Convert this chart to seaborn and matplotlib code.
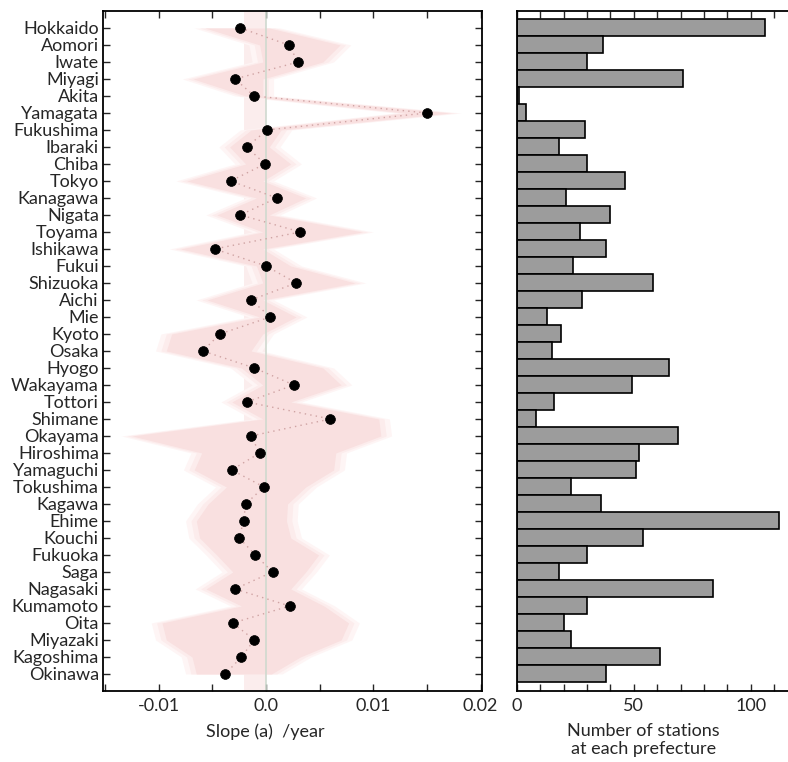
"""
Prefecture slope chart: slope (a) per prefecture with uncertainty band,
plus number of stations per prefecture as horizontal bars.
"""

import numpy as np
import pandas as pd
import matplotlib
matplotlib.use("Agg")
import matplotlib.pyplot as plt
from matplotlib.ticker import MultipleLocator, FuncFormatter
import seaborn as sns

# ── Data ──────────────────────────────────────────────────────────────────────
prefectures = [
    "Hokkaido", "Aomori", "Iwate", "Miyagi", "Akita", "Yamagata", "Fukushima",
    "Ibaraki", "Chiba", "Tokyo", "Kanagawa", "Nigata", "Toyama", "Ishikawa",
    "Fukui", "Shizuoka", "Aichi", "Mie", "Kyoto", "Osaka", "Hyogo", "Wakayama",
    "Tottori", "Shimane", "Okayama", "Hiroshima", "Yamaguchi", "Tokushima",
    "Kagawa", "Ehime", "Kouchi", "Fukuoka", "Saga", "Nagasaki", "Kumamoto",
    "Oita", "Miyazaki", "Kagoshima", "Okinawa",
]

slope = [
    -0.0024, 0.0021, 0.0030, -0.0029, -0.0011, 0.0150, 0.0001,
    -0.0018, -0.0001, -0.0033, 0.0010, -0.0024, 0.0032, -0.0048,
    0.0000, 0.0028, -0.0014, 0.0004, -0.0043, -0.0059, -0.0011, 0.0026,
    -0.0018, 0.0060, -0.0014, -0.0006, -0.0032, -0.0002,
    -0.0019, -0.0021, -0.0025, -0.0010, 0.0006, -0.0029, 0.0022,
    -0.0031, -0.0011, -0.0023, -0.0038,
]

slope_lo = [
    -0.0057, -0.0006, -0.0003, -0.0068, -0.0019, 0.0130, -0.0014,
    -0.0034, -0.0019, -0.0074, -0.0009, -0.0046, -0.0003, -0.0080,
    -0.0009, -0.0003, -0.0055, -0.0006, -0.0088, -0.0093, -0.0023, -0.0003,
    -0.0032, -0.0003, -0.0125, -0.0060, -0.0067, -0.0037,
    -0.0054, -0.0065, -0.0062, -0.0046, -0.0031, -0.0056, -0.0023,
    -0.0097, -0.0093, -0.0069, -0.0065,
]

slope_hi = [
    0.0003, 0.0069, 0.0053, -0.0003, -0.0003, 0.0172, 0.0014,
    0.0003, 0.0023, -0.0003, 0.0037, 0.0003, 0.0090, -0.0003,
    0.0023, 0.0083, -0.0003, 0.0028, -0.0003, -0.0014, 0.0053, 0.0070,
    0.0023, 0.0105, 0.0107, 0.0065, 0.0063, 0.0037,
    0.0020, 0.0019, 0.0023, 0.0049, 0.0037, 0.0023, 0.0054,
    0.0077, 0.0070, 0.0032, 0.0005,
]

stations = [
    106, 37, 30, 71, 1, 4, 29, 18, 30, 46, 21, 40, 27, 38, 24, 58, 28, 13,
    19, 15, 65, 49, 16, 8, 69, 52, 51, 23, 36, 112, 54, 30, 18, 84, 30, 20,
    23, 61, 38,
]

slope_ticks = [-0.01, 0.0, 0.01, 0.02]
slope_tick_labels = ["-0.01", "0.0", "0.01", "0.02"]

df = pd.DataFrame({
    "prefecture": prefectures,
    "pos": np.arange(len(prefectures)),
    "slope": slope,
    "lo": slope_lo,
    "hi": slope_hi,
    "stations": stations,
})

# ── Style ─────────────────────────────────────────────────────────────────────
sns.set_style("ticks")
plt.rcParams["font.family"] = ["Lato", "DejaVu Sans"]
plt.rcParams["xtick.direction"] = "in"
plt.rcParams["ytick.direction"] = "in"

fig = plt.figure(figsize=(7.88, 7.62), dpi=100)
ax1 = fig.add_axes([0.1307, 0.0932, 0.4806, 0.8924])
ax2 = fig.add_axes([0.6561, 0.0932, 0.3440, 0.8924])

n = len(df)

# ── Left: slope with soft pink band ──────────────────────────────────────────
ax1.axvspan(-0.0021, 0.0, color="#fbeded", lw=0, zorder=0)
for grow, col in [(0.0010, "#fef5f5"), (0.0005, "#fcecec"), (0.0, "#f9e0e0")]:
    ax1.fill_betweenx(df["pos"], df["lo"] - grow, df["hi"] + grow,
                      color=col, lw=0, zorder=1)
ax1.axvline(0.0, color="#cfd9cf", lw=1.2, zorder=2)
ax1.plot(df["slope"], df["pos"], ls=(0, (1, 3)), lw=1.0,
         color="#cfa3a3", zorder=3)
sns.scatterplot(data=df, x="slope", y="pos", ax=ax1, color="black",
                s=50, edgecolor="black", linewidth=0.5, zorder=4)

ax1.set_xlim(-0.0152, 0.0201)
ax1.set_ylim(n, -1)
ax1.set_yticks(df["pos"])
ax1.set_yticklabels(prefectures, fontsize=13)
ax1.set_xticks(slope_ticks)
ax1.set_xticklabels(slope_tick_labels, fontsize=13)
ax1.xaxis.set_minor_locator(MultipleLocator(0.005))
ax1.tick_params(axis="x", which="both", top=True, bottom=True, length=5,
                width=1, pad=5)
ax1.tick_params(axis="y", left=True, right=True, length=5, width=1, pad=3)
ax1.set_xlabel("Slope (a)  /year", fontsize=13)
ax1.xaxis.set_label_coords(0.428, -0.047)
ax1.xaxis.label.set_verticalalignment("top")
ax1.set_ylabel("")
for sp in ax1.spines.values():
    sp.set_linewidth(1.3)
    sp.set_color("black")

# ── Right: number of stations ────────────────────────────────────────────────
sns.barplot(data=df, x="stations", y="prefecture", orient="h", ax=ax2,
            color="#9c9c9c", saturation=1, edgecolor="black", linewidth=1.2,
            width=1.0)
ax2.set_xlim(0, 116)
ax2.set_ylim(n, -1)
ax2.set_yticks([])
ax2.set_ylabel("")
ax2.xaxis.set_major_locator(MultipleLocator(50))
ax2.xaxis.set_minor_locator(MultipleLocator(10))
ax2.xaxis.set_major_formatter(FuncFormatter(lambda v, p: f"{v:.0f}"))
ax2.tick_params(axis="x", which="both", top=True, bottom=True, length=5,
                width=1, labelsize=13, pad=5)
ax2.set_xlabel("Number of stations\nat each prefecture", fontsize=13,
               linespacing=1.15)
ax2.xaxis.set_label_coords(0.467, -0.047)
ax2.xaxis.label.set_verticalalignment("top")
ax2.spines["right"].set_visible(False)
for sp in ["left", "top", "bottom"]:
    ax2.spines[sp].set_linewidth(1.3)
    ax2.spines[sp].set_color("black")

fig.savefig("out.png", dpi=100)
